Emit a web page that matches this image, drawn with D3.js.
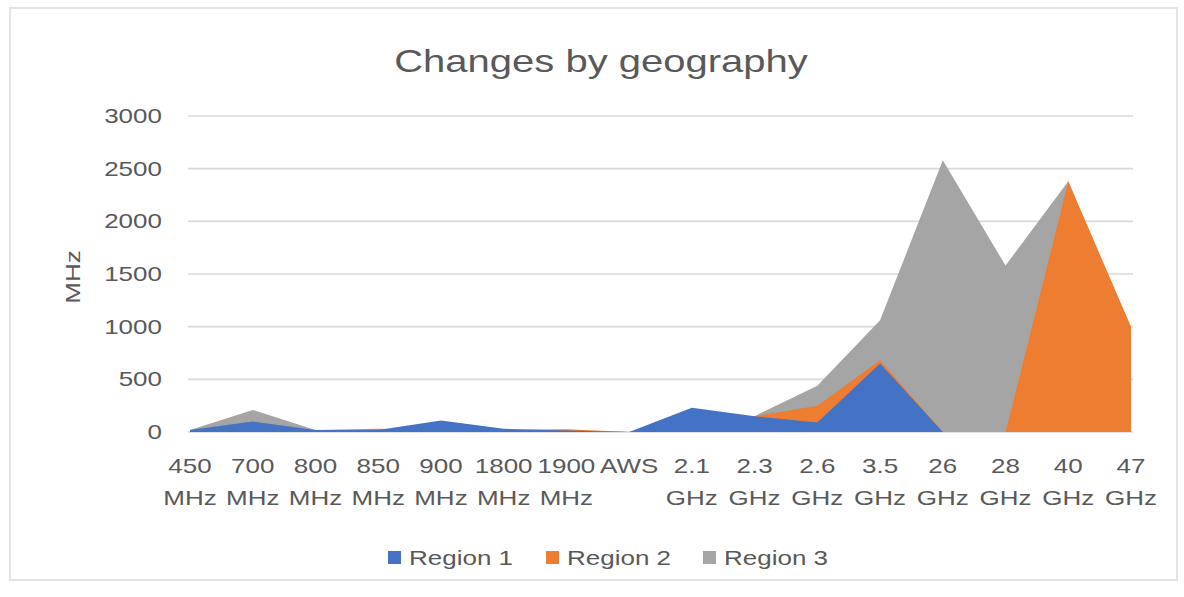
<!DOCTYPE html>
<html>
<head>
<meta charset="utf-8">
<script src="https://cdn.jsdelivr.net/npm/d3@7"></script>
<style>
  html, body { margin: 0; padding: 0; background: #fff; }
  svg { display: block; }
  text { font-family: "Liberation Sans", Arial, sans-serif; fill: #595959; }
</style>
</head>
<body>
<svg id="chart" width="1184" height="597"></svg>
<script>
// Spectrum bands (two-line tick labels)
const bandTop = ["450", "700", "800", "850", "900", "1800", "1900", "AWS", "2.1", "2.3", "2.6", "3.5", "26", "28", "40", "47"];
const bandUnit = ["MHz", "MHz", "MHz", "MHz", "MHz", "MHz", "MHz", "", "GHz", "GHz", "GHz", "GHz", "GHz", "GHz", "GHz", "GHz"];

// MHz of spectrum per band, per region
const region1 = [20, 100, 20, 20, 110, 30, 15, 0, 230, 150, 90, 650, 0, 0, 0, 0];
const region2 = [15, 20, 20, 30, 20, 20, 25, 0, 100, 150, 250, 680, 0, 0, 2380, 1000];
const region3 = [20, 210, 20, 20, 30, 20, 15, 0, 80, 150, 440, 1060, 2580, 1580, 2380, 900];

const seriesNames = ["Region 1", "Region 2", "Region 3"];
const yTicks = [0, 500, 1000, 1500, 2000, 2500, 3000];

const colors = { "Region 1": "#4472C4", "Region 2": "#ED7D31", "Region 3": "#A5A5A5" };
const seriesData = { "Region 1": region1, "Region 2": region2, "Region 3": region3 };

const svg = d3.select("#chart");
const SX = 1.3; // horizontal glyph stretch

// chart frame
svg.append("rect")
  .attr("x", 10).attr("y", 8).attr("width", 1167).attr("height", 572)
  .attr("fill", "#fff").attr("stroke", "#e3e3e3").attr("stroke-width", 2);

const x = d3.scalePoint().domain(d3.range(bandTop.length)).range([190, 1131]);
const y = d3.scaleLinear().domain([0, 3000]).range([432, 116]);

// gridlines
svg.append("g")
  .selectAll("line")
  .data(yTicks)
  .join("line")
  .attr("x1", x.range()[0] - 2).attr("x2", x.range()[1] + 2)
  .attr("y1", d => y(d)).attr("y2", d => y(d))
  .attr("stroke", "#d9d9d9").attr("stroke-width", 1.6);

// areas: back to front
const area = d3.area()
  .x((d, i) => x(i))
  .y0(y(0))
  .y1(d => y(d));

["Region 3", "Region 2", "Region 1"].forEach(name => {
  svg.append("path")
    .datum(seriesData[name])
    .attr("d", area)
    .attr("fill", colors[name]);
});

function stretchedText(g, tx, ty, str, anchor, size) {
  return g.append("text")
    .attr("transform", `translate(${tx},${ty}) scale(${SX},1)`)
    .attr("text-anchor", anchor)
    .attr("font-size", size)
    .text(str);
}

// y axis labels
const yAxis = svg.append("g");
yTicks.forEach(t => {
  stretchedText(yAxis, 162, y(t) + 7, String(t), "end", 20);
});

// x axis labels
const xAxis = svg.append("g");
bandTop.forEach((b, i) => {
  stretchedText(xAxis, x(i), 473, b, "middle", 20);
  if (bandUnit[i]) stretchedText(xAxis, x(i), 505, bandUnit[i], "middle", 20);
});

// y axis title
svg.append("text")
  .attr("transform", "translate(80,277) rotate(-90) scale(1.3,1)")
  .attr("text-anchor", "middle")
  .attr("font-size", 20)
  .text("MHz");

// title
svg.append("text")
  .attr("transform", "translate(601,72) scale(1.25,1)")
  .attr("text-anchor", "middle")
  .attr("font-size", 32)
  .attr("fill", "#595959")
  .text("Changes by geography");

// legend
const legendX = [388, 546, 703];
const legend = svg.append("g");
seriesNames.forEach((name, i) => {
  legend.append("rect")
    .attr("x", legendX[i]).attr("y", 551)
    .attr("width", 13).attr("height", 13)
    .attr("fill", colors[name]);
  stretchedText(legend, legendX[i] + 21, 565, name, "start", 20);
});
</script>
</body>
</html>
